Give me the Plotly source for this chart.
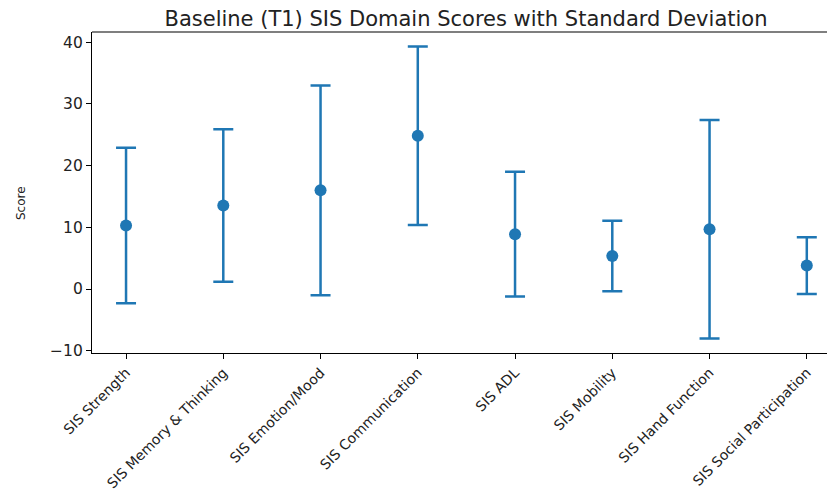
import plotly.graph_objects as go

categories = ["SIS Strength", "SIS Memory & Thinking", "SIS Emotion/Mood", "SIS Communication",
              "SIS ADL", "SIS Mobility", "SIS Hand Function", "SIS Social Participation"]
means = [10.3, 13.55, 16.0, 24.85, 8.9, 5.35, 9.7, 3.8]
sds = [12.6, 12.35, 17.0, 14.45, 10.1, 5.7, 17.7, 4.6]
yticks = [-10, 0, 10, 20, 30, 40]

color = "#1f77b4"
# the page body adds an 8px offset; figure coordinates = page coordinates - 8
OFF = 8
W, H = 835, 498
L = 92 - OFF
T = 32 - OFF
B = H - (353 - OFF)
R = OFF

fig = go.Figure()
fig.add_trace(go.Scatter(
    x=list(range(len(categories))), y=means, mode="markers",
    marker=dict(color=color, size=12),
    error_y=dict(type="data", array=sds, visible=True, color=color, thickness=2.5, width=10),
    showlegend=False,
))

fig.update_layout(
    width=W, height=H,
    margin=dict(l=L, r=R, t=T, b=B, autoexpand=False),
    plot_bgcolor="white", paper_bgcolor="white",
    font=dict(family="DejaVu Sans", color="#222"),
    title=dict(text="Baseline (T1) SIS Domain Scores with Standard Deviation",
               x=((466 - OFF) / W), xanchor="center", y=1 - (26 - OFF) / H, yanchor="bottom",
               font=dict(size=21, color="#222")),
    xaxis=dict(range=[-0.35, 7.29], tickmode="array", tickvals=list(range(len(categories))),
               ticktext=categories, tickangle=-45, showgrid=False, zeroline=False,
               showline=True, linecolor="black", linewidth=1.2, ticks="outside",
               ticklen=5, tickcolor="black", tickfont=dict(size=14), automargin=False),
    yaxis=dict(range=[-10.37, 41.67], tickmode="array", tickvals=yticks, showgrid=False,
               zeroline=False, showline=True, linecolor="black", linewidth=1.2,
               ticks="outside", ticklen=5, tickcolor="black", tickfont=dict(size=15.5),
               automargin=False),
    annotations=[dict(text="Score", xref="paper", yref="paper",
                      x=(21 - 92) / (W - L - R), y=(353 - 203) / (353 - 32),
                      xanchor="center", yanchor="middle",
                      textangle=-90, showarrow=False, font=dict(size=12, color="#222"))],
    shapes=[dict(type="line", xref="paper", yref="paper", x0=0, x1=1.03, y0=1, y1=1,
                 line=dict(color="black", width=1.2))],
)

fig.write_html("out.html")
